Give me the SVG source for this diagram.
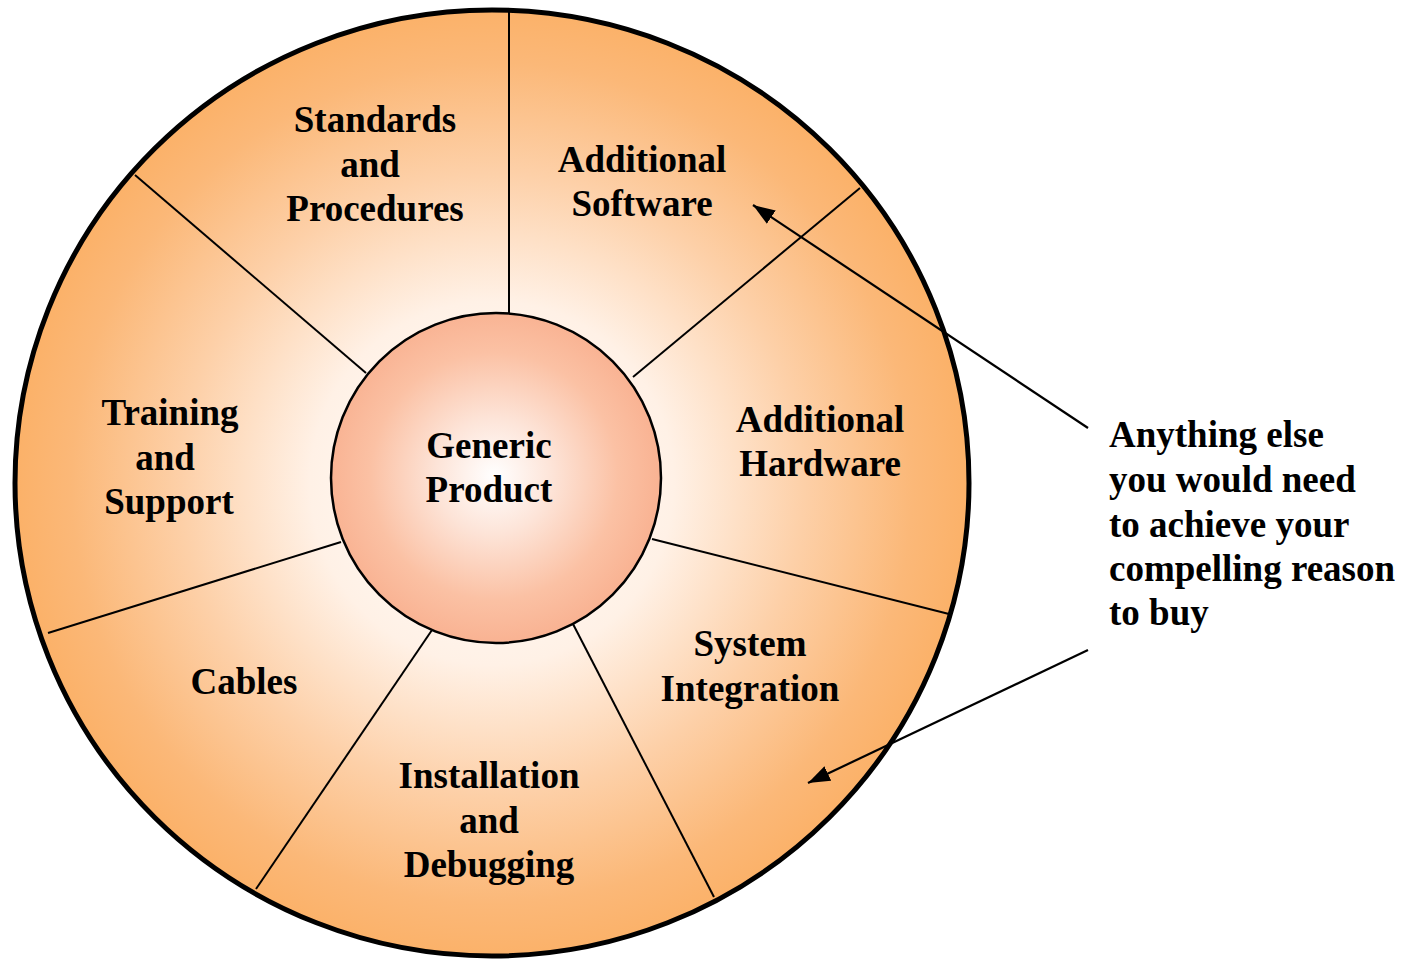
<svg xmlns="http://www.w3.org/2000/svg" width="1412" height="960" viewBox="0 0 1412 960">
  <defs>
    <radialGradient id="ringGrad" gradientUnits="userSpaceOnUse" cx="492" cy="483" r="478">
      <stop offset="0" stop-color="#ffffff"/>
      <stop offset="0.38" stop-color="#fff1e6"/>
      <stop offset="0.65" stop-color="#fdd0a8"/>
      <stop offset="0.88" stop-color="#fbb878"/>
      <stop offset="1" stop-color="#fbb168"/>
    </radialGradient>
    <radialGradient id="coreGrad" gradientUnits="userSpaceOnUse" cx="494" cy="476" r="165">
      <stop offset="0" stop-color="#ffffff"/>
      <stop offset="0.35" stop-color="#fde4d8"/>
      <stop offset="0.75" stop-color="#fbc1a4"/>
      <stop offset="1" stop-color="#f9b393"/>
    </radialGradient>
    <marker id="arrow" markerUnits="userSpaceOnUse" markerWidth="24" markerHeight="18" refX="22" refY="8" orient="auto">
      <path d="M0,0 L22,8 L0,16 Z" fill="#000"/>
    </marker>
    <style>
      .lbl { font-family: "Liberation Serif", "Times New Roman", serif; font-weight: bold; font-size: 37px; fill: #000; text-anchor: middle; }
      .note { font-family: "Liberation Serif", "Times New Roman", serif; font-weight: bold; font-size: 37px; fill: #000; }
      .div { stroke: #000; stroke-width: 2; fill: none; }
      .conn { stroke: #000; stroke-width: 2.2; fill: none; }
    </style>
  </defs>

  <g id="wheel">
    <ellipse cx="492" cy="483" rx="477" ry="473" fill="url(#ringGrad)" stroke="#000" stroke-width="5"/>
  </g>

  <g id="dividers">
    <line class="div" x1="509" y1="12" x2="509" y2="315"/>
    <line class="div" x1="860" y1="188" x2="633" y2="377"/>
    <line class="div" x1="949" y1="614" x2="652" y2="539"/>
    <line class="div" x1="714" y1="897" x2="573" y2="624"/>
    <line class="div" x1="256" y1="889" x2="432" y2="630"/>
    <line class="div" x1="48" y1="633" x2="341" y2="542"/>
    <line class="div" x1="135" y1="175" x2="366" y2="373"/>
  </g>

  <g id="generic-product">
    <circle cx="496" cy="478" r="165" fill="url(#coreGrad)" stroke="#000" stroke-width="2.5"/>
    <text class="lbl" x="489" y="458">Generic</text>
    <text class="lbl" x="489" y="502">Product</text>
  </g>

  <g id="standards-procedures">
    <text class="lbl" x="375" y="132">Standards</text>
    <text class="lbl" x="370" y="177">and</text>
    <text class="lbl" x="375" y="221">Procedures</text>
  </g>

  <g id="additional-software">
    <text class="lbl" x="642" y="172">Additional</text>
    <text class="lbl" x="642" y="216">Software</text>
  </g>

  <g id="additional-hardware">
    <text class="lbl" x="820" y="432">Additional</text>
    <text class="lbl" x="820" y="476">Hardware</text>
  </g>

  <g id="system-integration">
    <text class="lbl" x="750" y="656">System</text>
    <text class="lbl" x="750" y="701">Integration</text>
  </g>

  <g id="installation-debugging">
    <text class="lbl" x="489" y="788">Installation</text>
    <text class="lbl" x="489" y="833">and</text>
    <text class="lbl" x="489" y="877">Debugging</text>
  </g>

  <g id="cables">
    <text class="lbl" x="244" y="694">Cables</text>
  </g>

  <g id="training-support">
    <text class="lbl" x="170" y="425">Training</text>
    <text class="lbl" x="165" y="470">and</text>
    <text class="lbl" x="169" y="514">Support</text>
  </g>

  <g id="note">
    <text class="note" x="1109" y="447">Anything else</text>
    <text class="note" x="1109" y="492">you would need</text>
    <text class="note" x="1109" y="537">to achieve your</text>
    <text class="note" x="1109" y="581">compelling reason</text>
    <text class="note" x="1109" y="625">to buy</text>
  </g>

  <g id="connectors">
    <line class="conn" x1="1088" y1="428" x2="753" y2="205" marker-end="url(#arrow)"/>
    <line class="conn" x1="1088" y1="650" x2="808" y2="783" marker-end="url(#arrow)"/>
  </g>
</svg>
